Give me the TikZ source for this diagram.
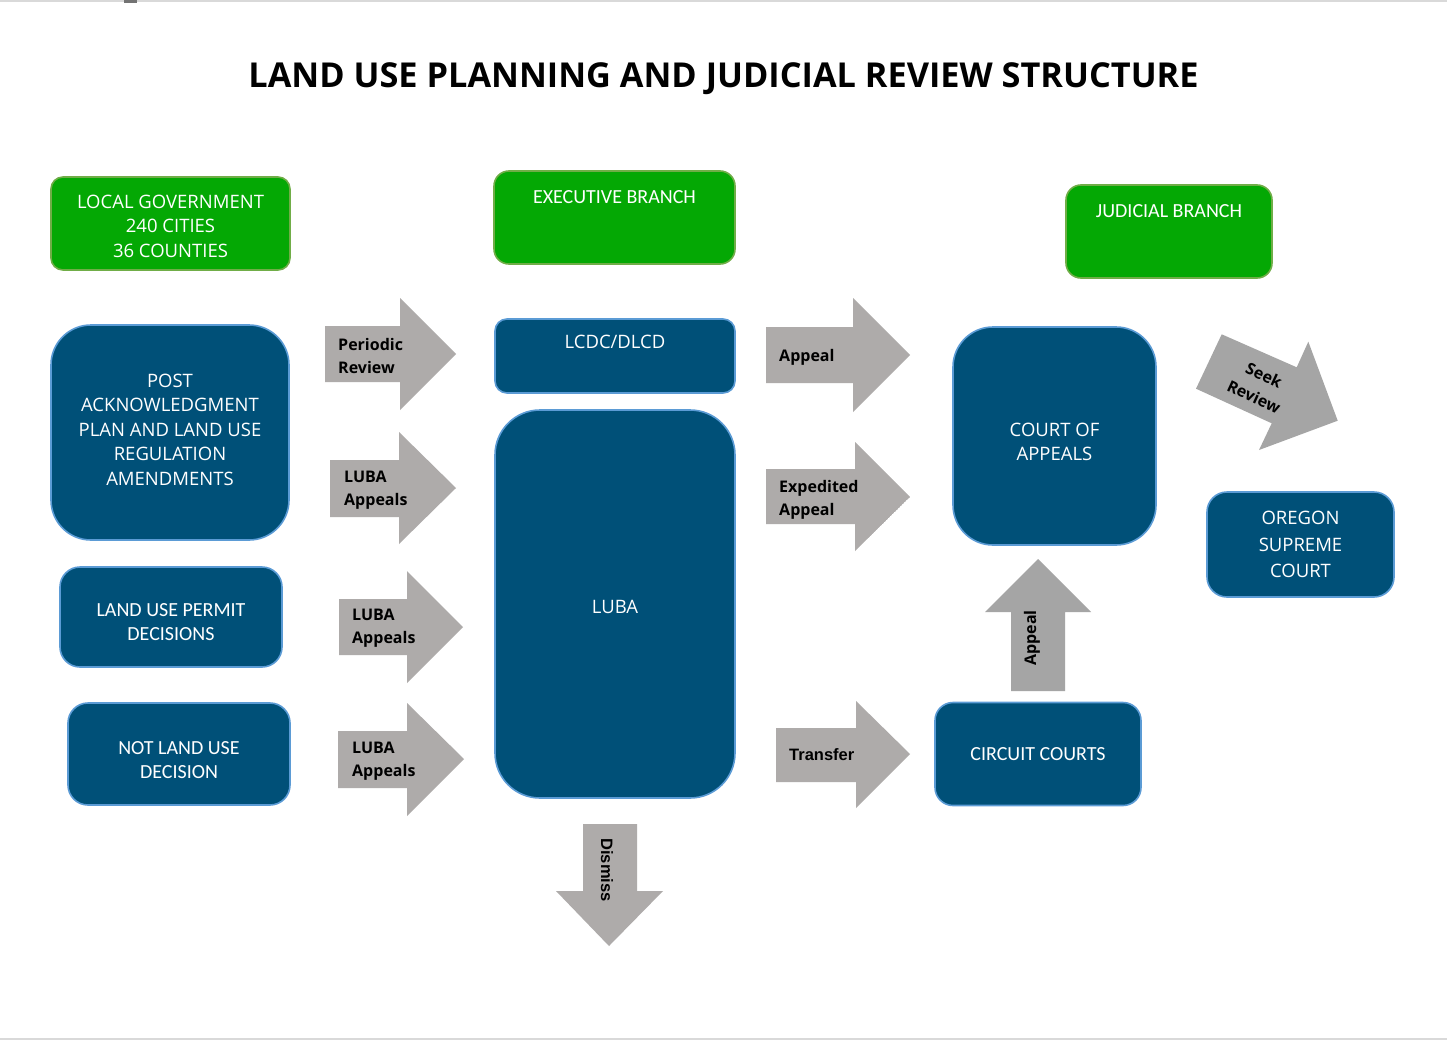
\documentclass[tikz,border=0pt]{standalone}
\usepackage{fontspec}
\setmainfont{Open Sans}
\newfontfamily\carlito{Carlito}
\newfontfamily\arialfont{Liberation Sans}
\usetikzlibrary{positioning}
\definecolor{boxblue}{RGB}{0,80,120}
\definecolor{boxedge}{RGB}{91,155,213}
\definecolor{boxgreen}{RGB}{4,168,4}
\definecolor{greenedge}{RGB}{112,173,71}
\definecolor{arrowgray}{RGB}{174,171,170}
\definecolor{seekgray}{RGB}{165,165,165}
\begin{document}
\begin{tikzpicture}[x=1pt, y=-1pt,
	bluebox/.style={draw=boxedge, fill=boxblue, line width=1.6pt, text=white, align=center, inner sep=0pt, font=\fontsize{18.5}{24.5}\selectfont},
	greenbox/.style={draw=greenedge, fill=boxgreen, line width=1.6pt, text=white, align=center, inner sep=0pt, font=\fontsize{18.5}{24.5}\selectfont},
	boxtext/.style={text=white, align=center, inner sep=0pt, font=\fontsize{18.5}{24.5}\selectfont},
	calibox/.style={font=\carlito\fontsize{20}{24.5}\selectfont},
	arrowtext/.style={anchor=west, align=left, text=black, inner sep=0pt, font=\bfseries\fontsize{16}{23}\selectfont},
	narrowtext/.style={anchor=west, text=black, inner sep=0pt, font=\arialfont\bfseries\fontsize{16.5}{23}\selectfont}]
	\useasboundingbox (0,0) rectangle (1447,1041);
	\fill[white] (0,0) rectangle (1447,1041);
	\draw[black!15, line width=2pt] (0,1) -- (1447,1);
	\draw[black!15, line width=2pt] (0,1039) -- (1447,1039);
	\fill[black!55] (124,0) rectangle (137,3);
	\node[font=\bfseries\fontsize{34.3}{36}\selectfont] (title) at (723.5,79) {LAND USE PLANNING AND JUDICIAL REVIEW STRUCTURE};
	\node[greenbox, rounded corners=12pt, minimum width=239pt, minimum height=93pt] (localgov) at (170.5,223.5) {};
	\node[boxtext] (localtext) at (170.5,226) {LOCAL GOVERNMENT\\240 CITIES\\36 COUNTIES};
	\node[greenbox, rounded corners=15pt, minimum width=241pt, minimum height=93pt] (executive) at (614.5,217.5) {};
	\node[boxtext, calibox] (exectext) at (614.5,197) {EXECUTIVE BRANCH};
	\node[greenbox, rounded corners=15pt, minimum width=206pt, minimum height=93pt] (judicial) at (1169,231.5) {};
	\node[boxtext, calibox] (judtext) at (1169,211) {JUDICIAL BRANCH};
	\node[bluebox, rounded corners=40pt, minimum width=238pt, minimum height=215pt] (postack) at (170,432.5) {};
	\node[boxtext] (posttext) at (170,429.5) {POST\\ACKNOWLEDGMENT\\PLAN AND LAND USE\\REGULATION\\AMENDMENTS};
	\node[bluebox, rounded corners=20pt, minimum width=222pt, minimum height=100pt] (permit) at (171,617) {};
	\node[boxtext, calibox] (permittext) at (171,622) {LAND USE PERMIT\\DECISIONS};
	\node[bluebox, rounded corners=20pt, minimum width=222pt, minimum height=102pt] (notlanduse) at (179,754) {};
	\node[boxtext, calibox] (notlandtext) at (179,760) {NOT LAND USE\\DECISION};
	\node[bluebox, rounded corners=12pt, minimum width=240pt, minimum height=74pt] (lcdc) at (615,356) {};
	\node[boxtext] (lcdctext) at (615,342) {LCDC/DLCD};
	\node[bluebox, rounded corners=45pt, minimum width=240pt, minimum height=388pt] (luba) at (615,604) {};
	\node[boxtext] (lubatext) at (615,607) {LUBA};
	\node[bluebox, rounded corners=40pt, minimum width=203pt, minimum height=218pt] (appeals) at (1054.5,436) {};
	\node[boxtext] (appealstext) at (1054.5,442) {COURT OF\\APPEALS};
	\node[bluebox, calibox, rounded corners=18pt, minimum width=206pt, minimum height=103pt] (circuit) at (1038,754) {CIRCUIT COURTS};
	\node[bluebox, rounded corners=20pt, minimum width=187pt, minimum height=105pt, font=\fontsize{18.5}{26.5}\selectfont] (supreme) at (1300.5,544.5) {OREGON\\SUPREME\\COURT};
	\fill[arrowgray] (325,326) -- (400,326) -- (400,298) -- (456,354) -- (400,410) -- (400,382) -- (325,382) -- cycle;
	\node[arrowtext] (periodic) at (338,356) {Periodic\\Review};
	\fill[arrowgray] (330,460) -- (399,460) -- (399,432) -- (456,488) -- (399,544) -- (399,517) -- (330,517) -- cycle;
	\node[arrowtext] (luba1) at (344,490.5) {LUBA\\Appeals};
	\fill[arrowgray] (339,599) -- (407,599) -- (407,571) -- (463,627) -- (407,683) -- (407,655) -- (339,655) -- cycle;
	\node[arrowtext] (luba2) at (352,628.5) {LUBA\\Appeals};
	\fill[arrowgray] (338,731) -- (407,731) -- (407,703) -- (464,759) -- (407,816) -- (407,788) -- (338,788) -- cycle;
	\node[arrowtext] (luba3) at (352,761.5) {LUBA\\Appeals};
	\fill[arrowgray] (766,327) -- (853,327) -- (853,298) -- (910,355) -- (853,412) -- (853,383) -- (766,383) -- cycle;
	\node[arrowtext] (appeal) at (779,357) {Appeal};
	\begin{scope}
		\clip (766,469) -- (855,469) -- (855,442) -- (910,497) -- (855,551) -- (855,524) -- (766,524) -- cycle;
		\fill[arrowgray] (766,469) -- (855,469) -- (855,442) -- (910,497) -- (855,551) -- (855,524) -- (766,524) -- cycle;
		\node[arrowtext] (expedited) at (779,499.5) {Expedited\\Appeal};
	\end{scope}
	\fill[arrowgray] (776,728) -- (856,728) -- (856,701) -- (910,754) -- (856,808) -- (856,782) -- (776,782) -- cycle;
	\node[narrowtext] (transfer) at (789,755) {Transfer};
	\fill[arrowgray] (583,824) -- (637,824) -- (637,891) -- (663,891) -- (609,946) -- (556,891) -- (583,891) -- cycle;
	\node[narrowtext, anchor=center, rotate=-90] (dismiss) at (607,870) {Dismiss};
	\fill[seekgray] (1011,691) -- (1011,612) -- (985,612) -- (1038,559) -- (1091,612) -- (1065,612) -- (1065,691) -- cycle;
	\node[arrowtext, anchor=center, rotate=90] (appealup) at (1032,638) {Appeal};
	\fill[seekgray] (1221.7,334.3) -- (1296.7,367.3) -- (1308.3,341.7) -- (1337.7,420.7) -- (1259,450) -- (1271.7,423.3) -- (1196,388.7) -- cycle;
	\node[arrowtext, anchor=center, align=center, rotate=-24.7, font=\bfseries\fontsize{16}{24}\selectfont] (seek) at (1259,386) {Seek\\Review};
\end{tikzpicture}
\end{document}
